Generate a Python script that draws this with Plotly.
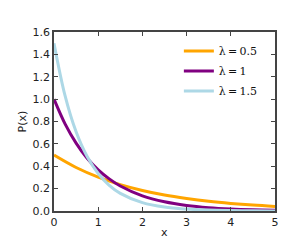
import plotly.graph_objects as go

x_half = [0, 0.5, 1, 1.5, 2, 2.5, 3, 3.5, 4, 4.5, 5]
y_half = [0.5, 0.389, 0.303, 0.236, 0.184, 0.143, 0.112, 0.087, 0.068, 0.053, 0.041]

x_one = [0, 0.25, 0.5, 0.75, 1, 1.25, 1.5, 2, 2.5, 3, 3.5, 4, 4.5, 5]
y_one = [1.0, 0.779, 0.607, 0.472, 0.368, 0.287, 0.223, 0.135, 0.082, 0.050, 0.030, 0.018, 0.011, 0.007]

x_onehalf = [0, 0.25, 0.5, 0.75, 1, 1.25, 1.5, 2, 2.5, 3, 3.5, 4, 4.5, 5]
y_onehalf = [1.5, 1.031, 0.708, 0.487, 0.335, 0.230, 0.158, 0.075, 0.035, 0.017, 0.008, 0.004, 0.002, 0.001]

names = ["λ\u2009=\u20090.5", "λ\u2009=\u20091", "λ\u2009=\u20091.5"]
colors = ["#FFA500", "#800080", "#ADD8E6"]

fig = go.Figure()
for i, (xs, ys, nm, c) in enumerate(zip([x_half, x_one, x_onehalf], [y_half, y_one, y_onehalf], names, colors)):
    fig.add_trace(go.Scatter(x=xs, y=ys, mode="lines", name=nm, legendgroup=f"g{i}",
                             line=dict(color=c, width=3, shape="spline")))

axis_common = dict(showline=True, linecolor="#444444", linewidth=1.5, mirror="ticks",
                   ticks="inside", ticklen=4, tickcolor="#444444", showgrid=False,
                   zeroline=False, automargin=False,
                   tickfont=dict(family="DejaVu Sans", size=11, color="#222222"))

fig.update_xaxes(range=[0, 5], tickvals=[0, 1, 2, 3, 4, 5], **axis_common)
fig.update_yaxes(range=[0, 1.6], tickvals=[0, 0.2, 0.4, 0.6, 0.8, 1.0, 1.2, 1.4, 1.6], tickformat=".1f",
                 **axis_common)

title_font = dict(family="DejaVu Sans", size=11, color="#222222")
fig.add_annotation(text="x", x=0.5, y=0, xref="paper", yref="paper", xanchor="center", yanchor="middle",
                   yshift=-21, showarrow=False, font=title_font)
fig.add_annotation(text="P(x)", x=0, y=0.5, xref="paper", yref="paper", xanchor="center", yanchor="middle",
                   xshift=-32, textangle=-90, showarrow=False, font=title_font)

fig.update_layout(
    width=299, height=248,
    margin=dict(l=54, r=24, t=32, b=37),
    paper_bgcolor="white", plot_bgcolor="white",
    legend=dict(x=0.565, y=0.975, xanchor="left", yanchor="top", bgcolor="rgba(0,0,0,0)",
                font=dict(family="DejaVu Serif", size=11, color="#111111"),
                itemwidth=30, tracegroupgap=1),
)

fig.write_html("out.html")
